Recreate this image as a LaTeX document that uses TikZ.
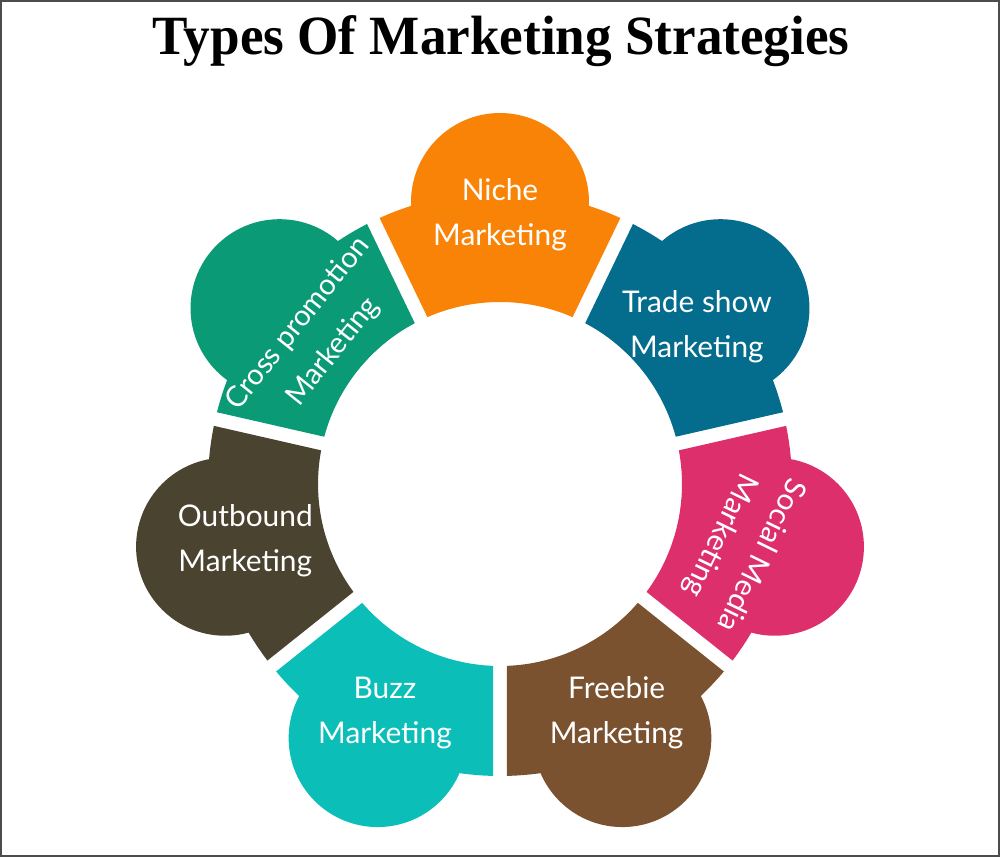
\documentclass[tikz,border=0pt]{standalone}
\usepackage{fontspec}
\setmainfont{Lato}
\newfontfamily\titlefont[FakeStretch=0.96]{Liberation Serif}
\usetikzlibrary{positioning}
\definecolor{nicheorange}{HTML}{F98307}
\definecolor{tradeblue}{HTML}{046C8C}
\definecolor{socialpink}{HTML}{DC2F6B}
\definecolor{freebiebrown}{HTML}{7A5230}
\definecolor{buzzteal}{HTML}{0BBFB8}
\definecolor{outbounddark}{HTML}{4A4330}
\definecolor{crossgreen}{HTML}{0A9A75}
\tikzset{segment label/.style={ % White text on each piece
text=white, align=center,
font=\fontsize{17}{25.6}\selectfont},
title/.style={ % Heading above the ring
font=\titlefont\bfseries\fontsize{31.5}{36}\selectfont}}

\begin{document}
\begin{tikzpicture}
    \useasboundingbox (-10,-7.46) rectangle (10,9.68);
    \draw[gray!60!black, line width=1.2pt] (-9.98,-7.44) rectangle (9.98,9.66);
    % ring pieces: sector with parallel gaps plus an outer disc
    \foreach \ang/\col in {90/nicheorange, 38.571/tradeblue, -12.857/socialpink,
        -64.286/freebiebrown, -115.714/buzzteal, -167.143/outbounddark, 141.429/crossgreen}{
        \fill[\col] (\ang-25.714+2.2:3.64) -- (\ang-25.714+1.37:5.84)
            arc[start angle=\ang-25.714+1.37, end angle=\ang+25.714-1.37, radius=5.84]
            -- (\ang+25.714-2.2:3.64)
            arc[start angle=\ang+25.714-2.2, end angle=\ang-25.714+2.2, radius=3.64] -- cycle;
        \fill[\col] (\ang:5.64) circle (1.78);
    }
    \node[title, anchor=base] (title) at (0.02,8.58) {Types Of Marketing Strategies};
    \node[segment label] (niche) at (90:5.38) {Niche\\Marketing};
    \node[segment label] (trade) at (38.6:5.04) {Trade show\\Marketing};
    \node[segment label, rotate=-116] (social) at (-14.3:4.96) {Social Media\\Marketing};
    \node[segment label] (freebie) at (-63:5.14) {Freebie\\Marketing};
    \node[segment label] (buzz) at (-116.7:5.12) {Buzz\\Marketing};
    \node[segment label] (outbound) at (192.6:5.22) {Outbound\\Marketing};
    \node[segment label, rotate=51.4, font=\fontsize{16.5}{25.6}\selectfont] (cross) at (141.6:4.70) {Cross promotion\\Marketing};
\end{tikzpicture}
\end{document}
